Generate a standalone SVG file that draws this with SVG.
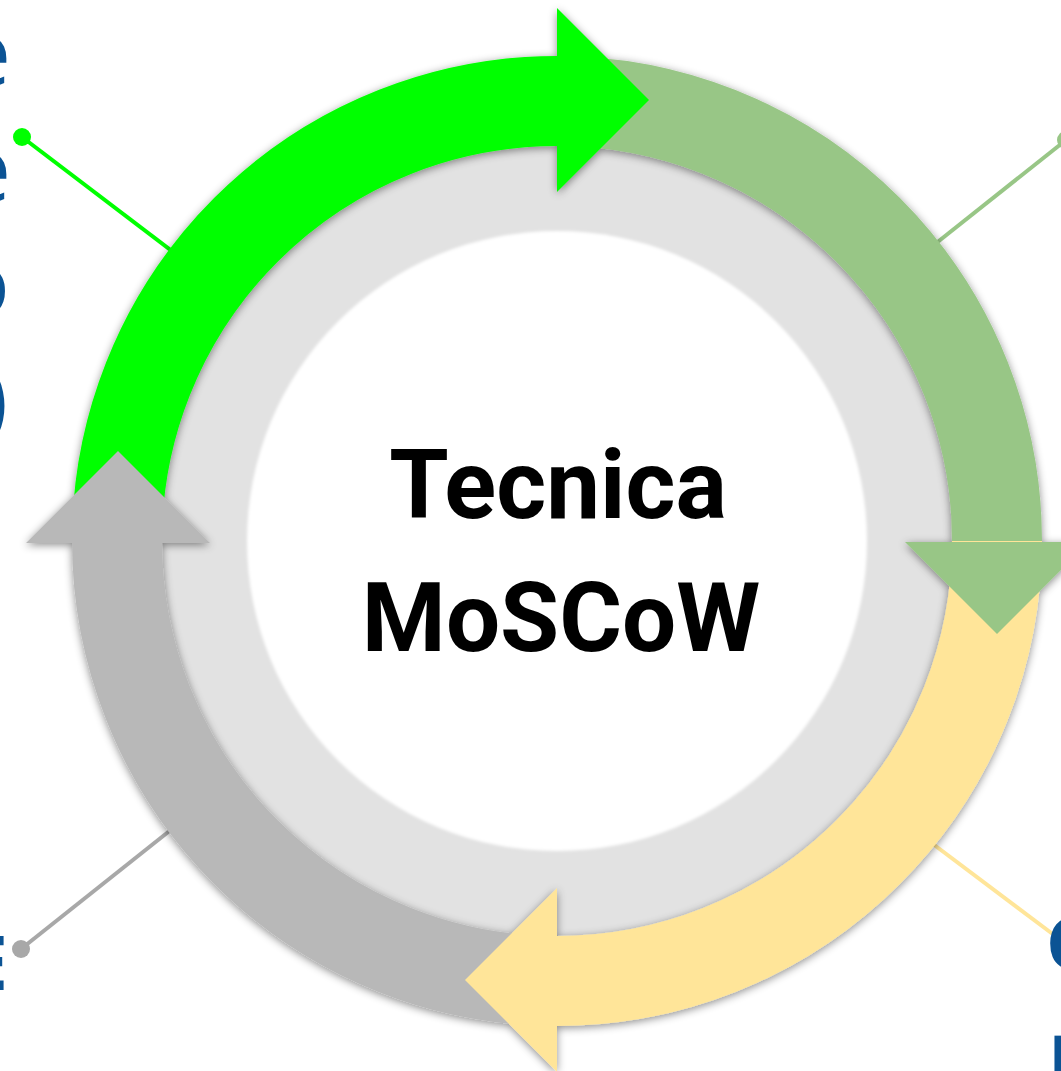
<svg xmlns="http://www.w3.org/2000/svg" width="1061" height="1071" viewBox="0 0 1061 1071">
  <defs>
    <filter id="shadow" x="-10%" y="-10%" width="120%" height="120%">
      <feDropShadow dx="0" dy="2" stdDeviation="4.5" flood-color="#000" flood-opacity="0.45"/>
    </filter>
    <filter id="soft" x="-5%" y="-5%" width="110%" height="110%">
      <feGaussianBlur stdDeviation="1.5"/>
    </filter>
  </defs>
  <style>
    .band { fill: none; stroke-width: 90; stroke-linecap: butt; }
    .conn { stroke-width: 4; fill: none; }
    .side { font-family: "Open Sans", "Liberation Sans", sans-serif; fill: #0b5394; }
    .center { font-family: Roboto, "Liberation Sans", sans-serif; font-weight: 700; font-size: 96px; fill: #000; text-anchor: middle; }
  </style>
  <rect width="1061" height="1071" fill="#fff"/>

  <g id="connectors">
    <line class="conn" x1="22" y1="137" x2="185" y2="261" stroke="#00ff00"/>
    <circle cx="22" cy="137" r="9" fill="#00ff00"/>
    <line class="conn" x1="1066" y1="140" x2="925" y2="252" stroke="#98c686"/>
    <circle cx="1066" cy="140" r="9" fill="#98c686"/>
    <line class="conn" x1="925" y1="838" x2="1054" y2="935" stroke="#ffe599"/>
    <line class="conn" x1="21" y1="949" x2="182" y2="821" stroke="#a8a8a8"/>
    <circle cx="21" cy="949" r="9" fill="#a8a8a8"/>
  </g>

  <g id="hub">
    <circle cx="557" cy="541" r="410" fill="#e2e2e2"/>
    <circle cx="557" cy="541" r="310" fill="#fff" filter="url(#soft)"/>
  </g>

  <g id="cycle" filter="url(#shadow)">
    <g id="must-band">
      <path class="band" stroke="#00ff00" d="M 117 541 A 440 440 0 0 1 557 101"/>
    </g>
    <g id="should-band">
      <path class="band" stroke="#98c686" d="M 557 101 A 440 440 0 0 1 997 541"/>
    </g>
    <g id="could-band">
      <path class="band" stroke="#ffe599" d="M 997 541 A 440 440 0 0 1 557 981"/>
    </g>
    <g id="wont-band">
      <path class="band" stroke="#b8b8b8" d="M 557 981 A 440 440 0 0 1 117 541"/>
    </g>
    <polygon id="must-arrow" fill="#00ff00" points="557,8 649,100 557,192"/>
    <polygon id="should-arrow" fill="#98c686" points="905,542 1089,542 997,634"/>
    <polygon id="could-arrow" fill="#ffe599" points="557,888 557,1072 465,980"/>
    <polygon id="wont-arrow" fill="#b8b8b8" points="26,543 210,543 118,451"/>
  </g>

  <g id="title">
    <text class="center" x="558" y="518">Tecnica</text>
    <text class="center" x="561" y="651">MoSCoW</text>
  </g>

  <g id="side-texts">
    <text class="side" font-size="90" text-anchor="end" x="11" y="85">e</text>
    <text class="side" font-size="90" text-anchor="end" x="11" y="201">e</text>
    <text class="side" font-size="90" text-anchor="end" x="10" y="315">o</text>
    <text class="side" font-size="90" text-anchor="end" x="8" y="431">)</text>
    <text class="side" font-size="76" font-weight="700" text-anchor="end" x="8" y="990">E</text>
    <text class="side" font-size="72" font-weight="700" x="1046" y="969">C</text>
    <text class="side" font-size="72" font-weight="700" x="1048" y="1087">I</text>
  </g>
</svg>
